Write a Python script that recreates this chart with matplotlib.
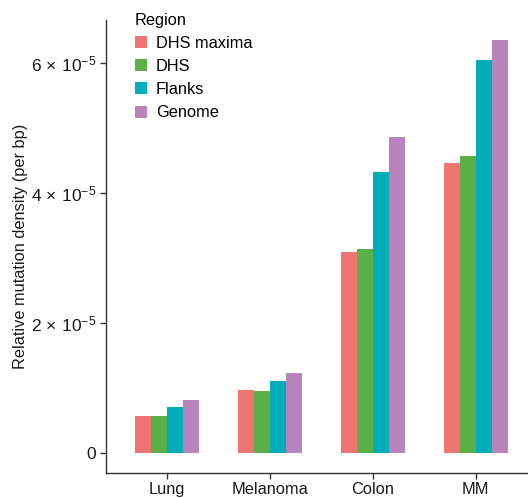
import matplotlib
matplotlib.use("Agg")
import matplotlib.pyplot as plt
import numpy as np
from matplotlib.ticker import FixedLocator

plt.rcParams['font.family'] = ['Liberation Sans', 'DejaVu Sans']
plt.rcParams['mathtext.fontset'] = 'custom'
plt.rcParams['mathtext.rm'] = 'Liberation Sans'
plt.rcParams['mathtext.it'] = 'Liberation Sans:italic'

categories = ["Lung", "Melanoma", "Colon", "MM"]
regions = ["DHS maxima", "DHS", "Flanks", "Genome"]
colors = ["#F07470", "#5BAF47", "#00ADB8", "#B784BC"]
values = {
    "DHS maxima": [0.565e-5, 0.965e-5, 3.09e-5, 4.45e-5],
    "DHS":        [0.565e-5, 0.95e-5, 3.13e-5, 4.56e-5],
    "Flanks":     [0.70e-5, 1.10e-5, 4.32e-5, 6.04e-5],
    "Genome":     [0.81e-5, 1.23e-5, 4.86e-5, 6.35e-5],
}
yticks = [0, 2e-5, 4e-5, 6e-5]
ytick_labels = ["0", r"$2\,\times\,10^{-5}$", r"$4\,\times\,10^{-5}$", r"$6\,\times\,10^{-5}$"]

fig = plt.figure(figsize=(5.28, 4.98), dpi=100)
ax = fig.add_axes([106/528, 25.3/498, 422/528, 452.7/498])

x = np.arange(len(categories))
w = 0.1556
for i, r in enumerate(regions):
    ax.bar(x + (i - 1.5) * w, values[r], width=w, color=colors[i], label=r, linewidth=0)

ax.set_xlim(-0.596, 3.509)
ax.set_ylim(-0.308e-5, 6.657e-5)
ax.set_xticks(x)
ax.set_xticklabels(categories)
ax.yaxis.set_major_locator(FixedLocator(yticks))
ax.set_yticklabels(ytick_labels)
for s in ["top", "right"]:
    ax.spines[s].set_visible(False)
for s in ["left", "bottom"]:
    ax.spines[s].set_color("#333333")
    ax.spines[s].set_linewidth(1.0)
ax.tick_params(axis="x", length=4, width=1, color="#333333", labelsize=11.8, labelcolor="#1a1a1a", pad=3)
ax.tick_params(axis="y", length=4, width=1, color="#333333", labelsize=12.5, labelcolor="#1a1a1a", pad=3)
ax.set_ylabel("Relative mutation density (per bp)", fontsize=11.8, color="#1a1a1a")
ax.yaxis.set_label_coords(-0.185, 0.5)

leg = ax.legend(title="Region", loc="upper left", bbox_to_anchor=(128/528, 1 - 6/498), bbox_transform=fig.transFigure,
                frameon=False, fontsize=11.8, title_fontsize=11.8, handlelength=0.75, handleheight=0.75,
                handletextpad=0.55, labelspacing=0.5, borderaxespad=0, alignment="left")
fig.savefig("out.png", dpi=100)
